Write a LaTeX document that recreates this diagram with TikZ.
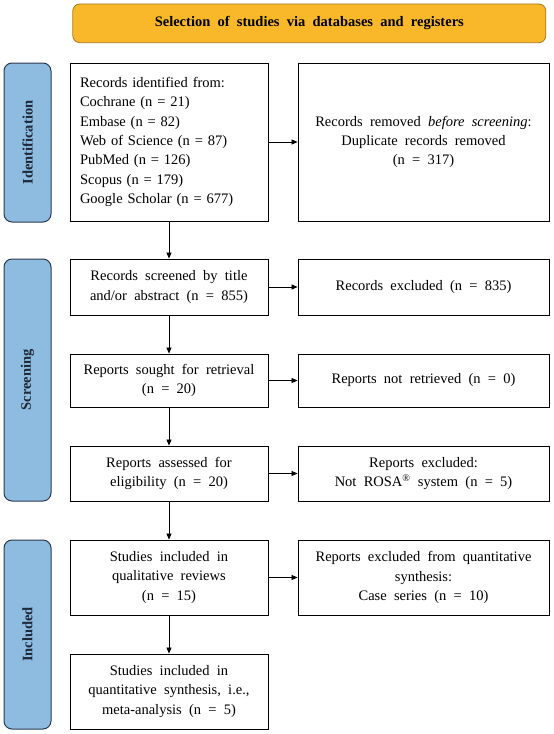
\documentclass[tikz,border=0pt]{standalone}
\usepackage{fontspec}
\setmainfont{Liberation Serif}
\usetikzlibrary{arrows.meta}
\definecolor{orangefill}{HTML}{F8B82A}
\definecolor{orangeline}{HTML}{A87A1C}
\definecolor{bluefill}{HTML}{8EBCE0}
\definecolor{blueline}{HTML}{2B3A4E}
\definecolor{sidetext}{HTML}{1E2838}
\newcommand{\bodyfont}{\fontsize{14.5}{19.3}\selectfont\spaceskip=0.5em plus 0.1em\relax}
\begin{document}
\begin{tikzpicture}[x=1pt,y=-1pt,
  box/.style={draw=black, line width=0.9pt, align=center, inner sep=2pt, font=\bodyfont},
  leftbox/.style={box, minimum width=198pt},
  rightbox/.style={box, minimum width=251pt},
  phase/.style={draw=blueline, fill=bluefill, rounded corners=8pt, line width=1pt,
    minimum height=47pt, rotate=90, text=sidetext,
    font=\fontsize{14.5}{17}\selectfont\bfseries},
  arr/.style={draw=black, line width=0.8pt, -{Triangle[length=6pt,width=5pt]}}
]
\fill[white] (0,0) rectangle (554,734);
\useasboundingbox (0,0) rectangle (554,734);

% title
\node[draw=orangeline, fill=orangefill, rounded corners=7pt, line width=0.8pt,
  minimum width=473pt, minimum height=38.7pt, font=\bodyfont\bfseries] (title)
  at (309.3,23.3) {Selection of studies via databases and registers};

% phases
\node[phase, minimum width=159pt] (pid) at (27.5,142.5) {Identification};
\node[phase, minimum width=242pt] (pscr) at (27.5,380) {Screening};
\node[phase, minimum width=189pt] (pinc) at (27.5,634.5) {Included};

% left column
\node[box, minimum width=198pt, minimum height=158pt, text width=178pt,
  inner xsep=10pt, align=left] (ident) at (169,142)
  {Records identified from:\\Cochrane (n = 21)\\Embase (n = 82)\\Web of Science (n = 87)\\PubMed (n = 126)\\Scopus (n = 179)\\Google Scholar (n = 677)};
\node[leftbox, minimum height=56pt] (scr) at (169,287)
  {Records screened by title\\and/or abstract (n = 855)};
\node[leftbox, minimum height=53pt] (sought) at (169,380.5)
  {Reports sought for retrieval\\(n = 20)};
\node[leftbox, minimum height=55pt] (assess) at (169,473.5)
  {Reports assessed for\\eligibility (n = 20)};
\node[leftbox, minimum height=75pt] (qual) at (169,577.5)
  {Studies included in\\qualitative reviews\\(n = 15)};
\node[leftbox, minimum height=75pt] (meta) at (169,691.5)
  {Studies included in\\quantitative synthesis, i.e.,\\meta-analysis (n = 5)};

% right column
\node[rightbox, minimum height=158pt] (removed) at (423.5,142)
  {Records removed \textit{before screening}:\\Duplicate records removed\\(n = 317)};
\node[rightbox, minimum height=56pt] (excl) at (423.5,287)
  {Records excluded (n = 835)};
\node[rightbox, minimum height=53pt] (notret) at (423.5,380.5)
  {Reports not retrieved (n = 0)};
\node[rightbox, minimum height=55pt] (repexcl) at (423.5,473.5)
  {Reports excluded:\\Not ROSA\textsuperscript{®} system (n = 5)};
\node[rightbox, minimum height=75pt] (quantexcl) at (423.5,577.5)
  {Reports excluded from quantitative\\synthesis:\\Case series (n = 10)};

% connectors
\draw[arr] (ident) -- (removed);
\draw[arr] (scr) -- (excl);
\draw[arr] (sought) -- (notret);
\draw[arr] (assess) -- (repexcl);
\draw[arr] (qual) -- (quantexcl);
\draw[arr] (ident) -- (scr);
\draw[arr] (scr) -- (sought);
\draw[arr] (sought) -- (assess);
\draw[arr] (assess) -- (qual);
\draw[arr] (qual) -- (meta);
\end{tikzpicture}
\end{document}
